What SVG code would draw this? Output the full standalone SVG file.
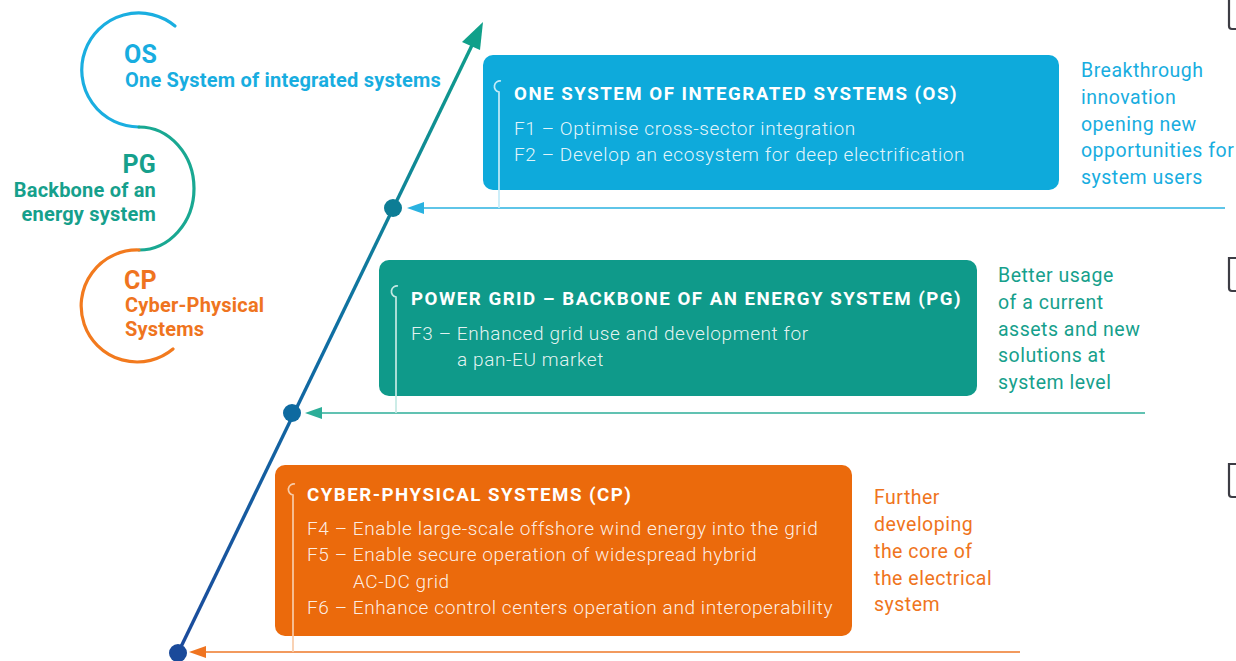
<svg xmlns="http://www.w3.org/2000/svg" width="1236" height="661" viewBox="0 0 1236 661">
<style>
text{font-family:Roboto,"Liberation Sans",sans-serif}
.lab{font-weight:700;letter-spacing:0.2px}
.big{font-size:25px}
.sub{font-size:20px}
.head{font-size:18.7px;font-weight:700;fill:#fff;letter-spacing:1.5px}
.item{font-size:19px;font-weight:300;fill:#fff;fill-opacity:.9;letter-spacing:0.6px}
.side{font-size:19.5px;font-weight:400;letter-spacing:0.5px}
.hook{fill:none;stroke-width:1.7}
.blue{fill:#18ade0}.teal{fill:#16a08c}.orange{fill:#ef7420}
</style>
<defs>
<linearGradient id="axis" x1="178" y1="653" x2="483" y2="23" gradientUnits="userSpaceOnUse">
<stop offset="0" stop-color="#1b4a9c"/><stop offset="0.5" stop-color="#0f6ea3"/><stop offset="1" stop-color="#10a08a"/>
</linearGradient>
</defs>
<g id="snake" fill="none" stroke-width="3.2" stroke-linecap="round">
<path d="M175 26 A57 57 0 1 0 139 127" stroke="#1aaee0"/>
<path d="M139 127 A55 61.5 0 0 1 139 250" stroke="#19a892"/>
<path d="M139 250 A56 56 0 1 0 173 349" stroke="#f27a1e"/>
</g>
<g id="snake-labels">
<text class="lab big blue" x="124" y="63">OS</text>
<text class="lab sub blue" x="125" y="87">One System of integrated systems</text>
<text class="lab big teal" x="156" y="173" text-anchor="end">PG</text>
<text class="lab sub teal" x="156" y="197" text-anchor="end">Backbone of an</text>
<text class="lab sub teal" x="156" y="221" text-anchor="end">energy system</text>
<text class="lab big orange" x="124" y="289">CP</text>
<text class="lab sub orange" x="125" y="312">Cyber-Physical</text>
<text class="lab sub orange" x="125" y="336">Systems</text>
</g>
<g id="connectors">
<line x1="178" y1="653" x2="476" y2="37" stroke="url(#axis)" stroke-width="3.4"/>
<path d="M483 22 L462 42 L480 50 Z" fill="#10a08a"/>
<line x1="1225" y1="208" x2="420" y2="208" stroke="#2ab2e0" stroke-width="1.6"/>
<path d="M407 208 L424 202 L424 214 Z" fill="#2ab2e0"/>
<line x1="1145" y1="413" x2="318" y2="413" stroke="#2cae98" stroke-width="1.6"/>
<path d="M305 413 L322 407 L322 419 Z" fill="#2cae98"/>
<line x1="1020" y1="652" x2="202" y2="652" stroke="#f29a5e" stroke-width="1.8"/>
<path d="M189 652 L206 646 L206 658 Z" fill="#ef7420"/>
<circle cx="393" cy="208" r="9" fill="#0d7d95"/>
<circle cx="292" cy="413" r="9" fill="#0e6aa0"/>
<circle cx="178" cy="653" r="9" fill="#1a4a9a"/>
</g>
<g id="os">
<rect x="483" y="55" width="576" height="135" rx="10" fill="#0eaadb"/>
<path class="hook" d="M501 81 A5.5 5.5 0 1 0 499 92 V208" stroke="#c4ebf8"/>
<text class="head" x="514" y="100">ONE SYSTEM OF INTEGRATED SYSTEMS (OS)</text>
<text class="item" x="514" y="135">F1 – Optimise cross-sector integration</text>
<text class="item" x="514" y="161">F2 – Develop an ecosystem for deep electrification</text>
</g>
<g id="os-note" class="side blue">
<text x="1081" y="77">Breakthrough</text>
<text x="1081" y="104">innovation</text>
<text x="1081" y="131">opening new</text>
<text x="1081" y="157">opportunities for</text>
<text x="1081" y="184">system users</text>
</g>
<g id="pg">
<rect x="379" y="260" width="598" height="136" rx="10" fill="#0f9a8a"/>
<path class="hook" d="M398 286 A5.5 5.5 0 1 0 396 297 V413" stroke="#c4e9e3"/>
<text class="head" x="411" y="305">POWER GRID – BACKBONE OF AN ENERGY SYSTEM (PG)</text>
<text class="item" x="411" y="340">F3 – Enhanced grid use and development for</text>
<text class="item" x="457" y="366">a pan-EU market</text>
</g>
<g id="pg-note" class="side teal">
<text x="998" y="282">Better usage</text>
<text x="998" y="309">of a current</text>
<text x="998" y="336">assets and new</text>
<text x="998" y="362">solutions at</text>
<text x="998" y="389">system level</text>
</g>
<g id="cp">
<rect x="275" y="465" width="577" height="171" rx="10" fill="#eb6a0c"/>
<path class="hook" d="M295 484 A5.5 5.5 0 1 0 293 495 V652" stroke="#f8cba8"/>
<text class="head" x="307" y="501">CYBER-PHYSICAL SYSTEMS (CP)</text>
<text class="item" x="307" y="535">F4 – Enable large-scale offshore wind energy into the grid</text>
<text class="item" x="307" y="561">F5 – Enable secure operation of widespread hybrid</text>
<text class="item" x="353" y="588">AC-DC grid</text>
<text class="item" x="307" y="614">F6 – Enhance control centers operation and interoperability</text>
</g>
<g id="cp-note" class="side orange">
<text x="874" y="504">Further</text>
<text x="874" y="531">developing</text>
<text x="874" y="558">the core of</text>
<text x="874" y="585">the electrical</text>
<text x="874" y="611">system</text>
</g>
<g id="edge-marks" fill="none" stroke="#3c3c44" stroke-width="2.2">
<path d="M1229 0 V26 Q1229 29 1232 29 H1236"/>
<path d="M1236 258 H1229 V288 Q1229 291 1232 291 H1236"/>
<path d="M1236 464 H1229 V494 Q1229 497 1232 497 H1236"/>
</g>
</svg>
